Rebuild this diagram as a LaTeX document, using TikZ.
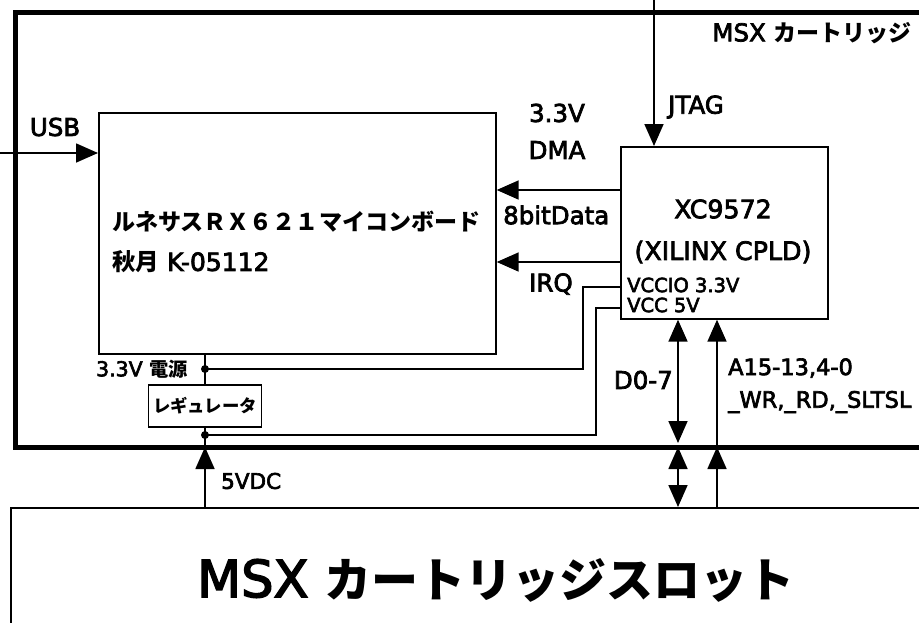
\documentclass[tikz,border=0pt]{standalone}
\usepackage{fontspec}
\setmainfont{DejaVu Sans}[FakeBold=3]
\newfontfamily\jpfam{Noto Sans CJK JP}[Scale=0.94]
\newcommand\jp{\jpfam\bfseries}
\usetikzlibrary{arrows.meta}
\begin{document}
\begin{tikzpicture}[x=1pt,y=-1pt,
  wire/.style={line width=1.7pt},
  arr/.style={line width=1.7pt,-{Triangle[length=22pt,width=19pt]}},
  darr/.style={line width=1.7pt,{Triangle[length=22pt,width=19pt]}-{Triangle[length=22pt,width=19pt]}},
  blk/.style={draw,line width=1.7pt,rectangle,inner sep=0pt,anchor=north west},
  lbl/.style={font=\fontsize{24.5}{28}\selectfont,inner sep=0pt},
  blbl/.style={font=\fontsize{22.5}{26}\selectfont,inner sep=0pt},
  xlbl/.style={font=\fontsize{25.3}{29}\selectfont,inner sep=0pt},
  slbl/.style={font=\fontsize{19.5}{22}\selectfont,inner sep=0pt},
  mlbl/.style={font=\fontsize{20.5}{24}\selectfont,inner sep=0pt},
  jdot/.style={circle,fill,inner sep=0pt,minimum size=8pt}]
\useasboundingbox (0,0) rectangle (919,622);
\clip (0,0) rectangle (919,622);
% frames
\node[draw,line width=5pt,rectangle,inner sep=0pt,anchor=north west,minimum width=930pt,minimum height=435pt] (cart) at (13,10) {};
\node[blk,minimum width=940pt,minimum height=200pt] (slot) at (10,507) {};
\node[blk,minimum width=397pt,minimum height=241pt] (board) at (98,112) {};
\node[blk,minimum width=207pt,minimum height=172pt] (xc) at (620,146) {};
\node[draw,line width=1.7pt,rectangle,inner sep=0pt,minimum width=113pt,minimum height=42pt,anchor=north,font=\fontsize{18.5}{21}\selectfont\jp] (reg) at (205,384) {レギュレータ};
% texts
\node[lbl,anchor=east] (cartlbl) at (912,33) {MSX {\jp カートリッジ}};
\node[lbl] (usblbl) at (55,127) {USB};
\node[lbl,anchor=west] (jtaglbl) at (668,107) {JTAG};
\node[lbl] (v33lbl) at (557,113) {3.3V};
\node[lbl] (dmalbl) at (557,150) {DMA};
\node[lbl,anchor=west] (d8lbl) at (503,215) {8bitData};
\node[lbl,anchor=west] (irqlbl) at (529,284) {IRQ};
\node[lbl,anchor=west] (boardt1) at (112,222) {\jp ルネサスＲＸ６２１マイコンボード};
\node[lbl,font=\fontsize{25}{29}\selectfont,anchor=west] (boardt2) at (112,262) {{\jp 秋月} K-05112};
\node[xlbl] (xct1) at (723,209) {XC9572};
\node[xlbl] (xct2) at (723,252) {(XILINX CPLD)};
\node[slbl,anchor=west] (vcciolbl) at (627,285) {VCCIO 3.3V};
\node[slbl,anchor=west] (vcclbl) at (627,305) {VCC 5V};
\node[mlbl,anchor=east] (pwrlbl) at (188,369) {3.3V {\jp 電源}};
\node[lbl,anchor=east] (dbuslbl) at (673,380) {D0-7};
\node[blbl,anchor=west] (abuslbl1) at (728,368) {A15-13,4-0};
\node[blbl,anchor=west] (abuslbl2) at (728,402) {\_WR,\_RD,\_SLTSL};
\node[font=\fontsize{21.5}{25}\selectfont,inner sep=0pt,anchor=west] (vdclbl) at (221,481) {5VDC};
\node[font=\fontsize{51}{60}\selectfont,inner sep=0pt,anchor=west] (slotlbl) at (197,580) {MSX {\jp\fontsize{50}{60}\selectfont カートリッジスロット}};
% coordinates
\coordinate (usbsrc) at (0,153);
\coordinate (jtagsrc) at (654,0);
\coordinate (d8) at (620,190);
\coordinate (irq) at (620,262);
\coordinate (vio) at (620,287);
\coordinate (vcc) at (620,308);
\node[jdot] (dot1) at (205,369) {};
\node[jdot] (dot2) at (205,435) {};
\coordinate (vioturn) at (583,369);
\coordinate (vccturn) at (596,435);
\coordinate (p5v) at (205,447);
\coordinate (dbusA) at (678,443);
\coordinate (dbusB) at (678,447);
\coordinate (abusA) at (717,445);
\coordinate (abusB) at (717,447);
% connectors
\draw[arr] (usbsrc) -- (board.west |- usbsrc);
\draw[arr] (jtagsrc) -- (xc.north -| jtagsrc);
\draw[arr] (xc.west |- d8) -- (board.east |- d8);
\draw[arr] (xc.west |- irq) -- (board.east |- irq);
\draw[wire] (xc.west |- vio) -| (vioturn) -- (dot1.center);
\draw[wire] (xc.west |- vcc) -| (vccturn) -- (dot2.center);
\draw[wire] (board.south -| dot1) -- (dot1.center) -- (reg.north);
\draw[wire] (reg.south) -- (dot2.center) -- (p5v);
\draw[arr] (slot.north -| p5v) -- (p5v);
\draw[darr] (xc.south -| dbusA) -- (dbusA);
\draw[darr] (dbusB) -- (slot.north -| dbusB);
\draw[arr] (abusA) -- (xc.south -| abusA);
\draw[arr] (slot.north -| abusB) -- (abusB);
\end{tikzpicture}
\end{document}
